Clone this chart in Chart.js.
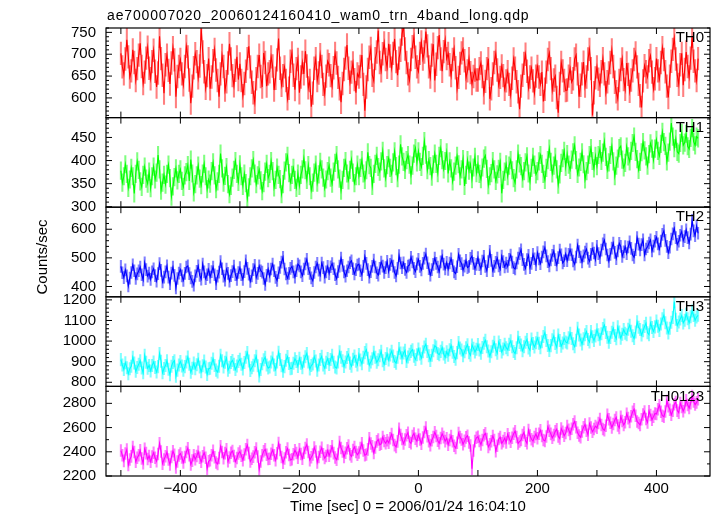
<!DOCTYPE html>
<html><head><meta charset="utf-8">
<script src="https://cdn.jsdelivr.net/npm/chart.js@4.4.1/dist/chart.umd.min.js"></script>
<style>html,body{margin:0;padding:0;background:#fff;}canvas{display:block;}</style>
</head><body>
<canvas id="c" width="717" height="516"></canvas>
<script>
const titleText = 'ae700007020_20060124160410_wam0_trn_4band_long.qdp';
const xTitle = 'Time [sec] 0 = 2006/01/24 16:04:10';
const yTitle = 'Counts/sec';

const times = [
-500,-497.5,-495,-492.5,-490,-487.5,-485,-482.5,-480,-477.5,-475,-472.5,-470,-467.5,-465,-462.5,-460,-457.5,-455,-452.5,
-450,-447.5,-445,-442.5,-440,-437.5,-435,-432.5,-430,-427.5,-425,-422.5,-420,-417.5,-415,-412.5,-410,-407.5,-405,-402.5,
-400,-397.5,-395,-392.5,-390,-387.5,-385,-382.5,-380,-377.5,-375,-372.5,-370,-367.5,-365,-362.5,-360,-357.5,-355,-352.5,
-350,-347.5,-345,-342.5,-340,-337.5,-335,-332.5,-330,-327.5,-325,-322.5,-320,-317.5,-315,-312.5,-310,-307.5,-305,-302.5,
-300,-297.5,-295,-292.5,-290,-287.5,-285,-282.5,-280,-277.5,-275,-272.5,-270,-267.5,-265,-262.5,-260,-257.5,-255,-252.5,
-250,-247.5,-245,-242.5,-240,-237.5,-235,-232.5,-230,-227.5,-225,-222.5,-220,-217.5,-215,-212.5,-210,-207.5,-205,-202.5,
-200,-197.5,-195,-192.5,-190,-187.5,-185,-182.5,-180,-177.5,-175,-172.5,-170,-167.5,-165,-162.5,-160,-157.5,-155,-152.5,
-150,-147.5,-145,-142.5,-140,-137.5,-135,-132.5,-130,-127.5,-125,-122.5,-120,-117.5,-115,-112.5,-110,-107.5,-105,-102.5,
-100,-97.5,-95,-92.5,-90,-87.5,-85,-82.5,-80,-77.5,-75,-72.5,-70,-67.5,-65,-62.5,-60,-57.5,-55,-52.5,
-50,-47.5,-45,-42.5,-40,-37.5,-35,-32.5,-30,-27.5,-25,-22.5,-20,-17.5,-15,-12.5,-10,-7.5,-5,-2.5,
0,2.5,5,7.5,10,12.5,15,17.5,20,22.5,25,27.5,30,32.5,35,37.5,40,42.5,45,47.5,
50,52.5,55,57.5,60,62.5,65,67.5,70,72.5,75,77.5,80,82.5,85,87.5,90,92.5,95,97.5,
100,102.5,105,107.5,110,112.5,115,117.5,120,122.5,125,127.5,130,132.5,135,137.5,140,142.5,145,147.5,
150,152.5,155,157.5,160,162.5,165,167.5,170,172.5,175,177.5,180,182.5,185,187.5,190,192.5,195,197.5,
200,202.5,205,207.5,210,212.5,215,217.5,220,222.5,225,227.5,230,232.5,235,237.5,240,242.5,245,247.5,
250,252.5,255,257.5,260,262.5,265,267.5,270,272.5,275,277.5,280,282.5,285,287.5,290,292.5,295,297.5,
300,302.5,305,307.5,310,312.5,315,317.5,320,322.5,325,327.5,330,332.5,335,337.5,340,342.5,345,347.5,
350,352.5,355,357.5,360,362.5,365,367.5,370,372.5,375,377.5,380,382.5,385,387.5,390,392.5,395,397.5,
400,402.5,405,407.5,410,412.5,415,417.5,420,422.5,425,427.5,430,432.5,435,437.5,440,442.5,445,447.5,
450,452.5,455,457.5,460,462.5,465,467.5,470];

const th0 = [
702,671,655,689,733,694,648,662,710,681,640,667,698,725,672,633,659,691,716,668,
644,683,709,661,625,657,741,690,652,611,676,698,663,632,680,715,687,603,649,672,
688,655,630,672,718,694,641,588,627,669,701,683,646,673,759,705,660,622,651,690,
621,648,685,711,664,640,603,655,697,672,618,637,680,724,689,651,628,663,694,642,
678,640,605,633,661,690,718,671,636,612,590,644,672,698,649,625,703,681,627,655,
660,694,673,618,645,687,736,668,629,651,671,640,598,622,684,703,652,619,667,688,
612,648,681,655,707,673,623,640,580,611,668,690,640,657,699,672,631,609,650,684,
676,651,628,669,702,680,647,621,590,633,665,691,721,668,636,659,680,642,612,655,
648,672,698,631,571,625,665,693,713,652,639,690,705,754,681,662,701,726,688,670,
724,696,668,702,735,683,652,691,709,746,766,712,681,655,640,688,717,740,693,671,
660,702,728,689,705,752,719,671,648,698,723,640,677,715,744,689,661,706,733,690,
702,676,651,688,712,669,621,647,679,703,712,685,646,662,690,658,633,649,664,641,
641,667,680,649,612,638,667,690,598,621,655,681,702,664,629,647,673,651,620,639,
660,631,606,645,689,668,637,614,574,627,652,679,700,661,623,648,668,639,611,650,
672,648,631,659,592,620,659,688,703,667,618,641,650,601,566,633,681,662,640,617,
618,650,667,636,644,689,698,655,603,629,655,682,627,648,689,711,667,560,612,646,
671,643,629,660,690,655,612,637,657,681,710,672,636,614,598,640,665,689,642,620,
680,654,615,641,662,688,703,671,631,605,578,639,674,660,648,685,697,659,621,644,
690,662,643,681,715,688,660,627,601,650,684,711,737,689,652,631,676,702,629,665,
705,672,648,691,741,684,662,640,690];

const th1 = [
378,352,366,392,371,341,359,384,366,329,371,398,380,355,343,369,387,361,350,376,
340,366,387,359,374,412,381,335,352,369,348,371,391,362,322,344,364,383,357,371,
381,356,343,368,375,390,356,402,372,331,349,368,389,361,347,372,393,366,338,359,
350,377,396,368,338,355,371,415,383,352,367,386,349,327,345,363,380,399,371,354,
392,366,345,372,351,318,342,366,383,401,372,349,368,380,357,334,351,376,393,362,
371,399,377,342,358,385,369,360,327,349,378,396,410,373,353,369,384,358,341,372,
345,369,381,405,379,358,390,366,336,352,374,391,352,370,397,381,363,340,359,377,
389,363,350,376,395,412,381,361,335,358,384,399,372,357,380,402,374,351,366,391,
366,384,401,372,358,379,418,390,384,345,371,393,410,386,376,398,421,383,362,390,
405,384,371,396,420,388,362,391,435,409,397,380,401,412,391,368,389,415,427,396,
420,397,386,410,442,413,379,401,388,365,392,415,393,373,410,427,401,381,399,418,
372,398,383,355,376,389,410,392,366,381,403,345,369,401,378,392,360,385,408,373,
392,371,360,385,404,411,382,347,366,373,399,381,356,370,382,397,329,358,376,392,
366,389,401,379,362,352,381,415,394,388,361,377,396,409,372,355,384,408,391,370,
377,398,412,393,371,358,384,401,426,397,372,389,408,381,348,370,395,405,421,386,
414,391,380,402,418,433,401,371,385,397,418,392,359,377,391,412,427,399,383,410,
388,412,425,399,417,441,408,380,396,412,431,398,366,389,404,427,431,402,385,395,
430,409,398,421,438,452,419,403,380,397,418,440,422,409,389,414,437,426,401,426,
445,421,410,436,462,440,432,398,417,441,481,452,427,447,419,415,438,460,433,439,
458,431,425,449,470,441,433,452,448];

const th2 = [
470,448,431,458,437,402,429,449,476,455,428,444,455,468,441,423,483,459,436,447,
425,451,462,438,419,445,480,456,416,433,451,472,433,410,447,468,439,395,428,447,
459,437,421,446,468,472,445,430,418,405,437,453,472,439,426,478,451,427,441,460,
433,452,468,441,410,436,450,487,462,436,422,461,446,419,438,452,471,441,425,449,
466,441,425,452,490,463,443,418,437,459,474,431,446,472,455,450,428,407,439,461,
436,461,478,455,432,421,448,467,485,502,461,444,429,446,463,470,451,433,455,478,
472,451,438,461,479,495,462,446,430,420,449,468,481,457,440,482,466,433,451,470,
445,469,480,462,441,427,452,471,499,474,451,436,455,468,483,490,462,444,459,475,
478,455,441,470,505,481,459,433,452,470,492,468,448,440,463,485,471,449,466,488,
452,477,490,471,449,437,463,508,482,466,483,460,449,471,475,502,486,463,452,479,
495,470,458,481,499,513,483,462,440,459,477,499,481,468,452,486,507,478,461,484,
460,482,497,473,451,445,469,512,490,480,458,471,491,466,470,498,506,481,462,477,
501,476,462,489,505,470,455,487,523,491,455,470,484,499,472,460,506,487,468,482,
470,495,510,485,466,461,482,499,515,528,494,477,463,494,509,466,481,512,497,476,
518,496,480,503,521,536,507,487,472,493,509,524,494,475,501,527,511,482,490,514,
490,512,528,511,489,478,503,545,522,503,486,507,520,531,499,488,512,532,517,494,
540,515,501,527,549,562,531,510,488,512,534,552,519,497,524,551,540,505,521,539,
515,538,556,533,510,502,529,571,548,528,546,563,510,531,539,552,563,524,541,558,
572,549,531,559,582,594,561,540,518,537,566,584,603,571,547,558,579,592,560,574,
598,571,552,583,631,594,578,612,586];

const th3 = [
910,884,862,895,871,841,866,878,922,894,853,872,887,905,869,846,931,897,868,882,
855,881,899,872,850,876,940,902,846,867,881,905,863,837,878,896,905,829,859,884,
901,879,858,876,899,923,887,849,868,893,866,885,912,874,851,880,903,874,838,866,
868,892,913,882,859,850,878,931,904,874,897,918,859,873,896,906,887,862,879,901,
912,887,865,896,922,944,903,857,871,883,905,926,880,831,862,890,909,921,884,869,
874,899,918,884,862,899,946,911,880,853,876,907,925,891,866,868,892,914,901,877,
917,892,871,902,924,940,899,864,881,889,925,903,858,884,911,926,884,869,897,915,
886,911,931,897,874,869,899,948,921,904,877,898,920,935,893,878,912,927,902,884,
935,908,890,921,944,958,917,883,899,914,946,921,897,909,929,951,905,887,915,938,
908,933,951,927,901,893,921,964,942,919,942,955,901,923,936,950,958,927,911,934,
962,937,917,948,971,985,949,929,906,931,953,977,971,940,934,950,968,937,921,948,
931,958,978,946,925,912,944,993,966,957,929,948,968,982,944,931,981,965,947,960,
983,957,941,969,990,1004,972,952,927,948,975,994,958,941,996,979,947,962,985,968,
958,984,1001,972,949,940,968,1019,993,981,953,972,994,1008,967,956,1010,988,971,992,
1014,989,968,997,1022,1041,1003,979,954,978,1006,1025,988,970,1029,1003,975,991,1012,996,
991,1016,1038,1012,987,973,1004,1062,1030,1005,986,1011,1031,1046,1008,995,1047,1021,1003,1025,
1055,1031,1009,1036,1061,1078,1042,1019,994,1017,1043,1062,1027,1011,1069,1044,1014,1033,1056,1038,
1031,1058,1077,1048,1026,1013,1044,1094,1067,1056,1029,1050,1071,1087,1040,1031,1088,1066,1047,1069,
1098,1072,1052,1083,1108,1125,1089,1064,1039,1062,1091,1115,1192,1106,1076,1093,1107,1124,1088,1101,
1132,1108,1089,1118,1146,1124,1101,1117,1125];

const th0123 = [
2410,2372,2325,2385,2418,2290,2336,2362,2440,2398,2318,2351,2371,2412,2345,2305,2425,2389,2340,2366,
2318,2360,2392,2350,2322,2381,2470,2402,2302,2337,2364,2396,2336,2295,2358,2405,2376,2270,2319,2370,
2385,2352,2312,2356,2398,2430,2371,2295,2327,2372,2338,2366,2401,2350,2317,2364,2392,2351,2260,2322,
2330,2371,2408,2355,2312,2300,2349,2445,2398,2347,2389,2420,2321,2352,2392,2406,2366,2320,2349,2385,
2402,2368,2331,2378,2421,2455,2390,2320,2342,2360,2396,2428,2361,2255,2320,2371,2405,2420,2376,2340,
2342,2383,2415,2372,2330,2388,2472,2415,2356,2309,2345,2397,2426,2373,2332,2338,2380,2412,2390,2351,
2420,2381,2343,2392,2431,2460,2398,2331,2355,2378,2436,2402,2312,2356,2401,2433,2380,2348,2365,2410,
2368,2405,2445,2389,2352,2335,2381,2480,2432,2402,2357,2392,2430,2451,2380,2362,2415,2440,2398,2376,
2395,2431,2470,2410,2372,2378,2420,2512,2468,2445,2390,2435,2486,2502,2458,2466,2521,2489,2471,2496,
2475,2512,2546,2498,2455,2440,2486,2590,2538,2505,2468,2502,2537,2558,2482,2470,2530,2551,2508,2489,
2540,2501,2466,2518,2563,2600,2529,2487,2455,2496,2523,2561,2530,2492,2470,2514,2548,2521,2488,2512,
2458,2497,2530,2487,2450,2431,2475,2556,2521,2502,2463,2490,2519,2533,2476,2452,2260,2410,2488,2515,
2525,2489,2460,2498,2536,2552,2505,2440,2462,2487,2531,2498,2405,2450,2506,2521,2470,2488,2512,2476,
2545,2511,2482,2516,2549,2570,2523,2468,2485,2497,2538,2560,2491,2470,2580,2534,2503,2489,2522,2547,
2512,2549,2578,2531,2498,2490,2527,2606,2574,2548,2515,2538,2569,2587,2527,2510,2592,2566,2533,2555,
2612,2581,2548,2591,2627,2650,2602,2557,2535,2520,2568,2603,2625,2574,2541,2633,2600,2566,2589,2612,
2598,2637,2671,2622,2588,2577,2615,2705,2668,2640,2601,2630,2662,2684,2618,2597,2690,2655,2622,2644,
2715,2678,2646,2693,2731,2752,2697,2651,2637,2622,2668,2708,2733,2670,2642,2735,2704,2664,2689,2716,
2712,2751,2785,2731,2698,2690,2733,2820,2776,2748,2705,2739,2792,2811,2740,2722,2803,2770,2735,2768,
2825,2787,2762,2801,2860,2815,2790,2808,2835];

// half-length of the light error bars in each panel
const errBars = [26, 19, 21, 30, 49];

const panelNames = ['TH0','TH1','TH2','TH3','TH0123'];
const panelColors = ['#ff0000','#00ff00','#0000ff','#00ffff','#ff00ff'];
const errColors = ['rgba(255,0,0,0.5)','rgba(0,255,0,0.5)','rgba(0,0,255,0.5)','rgba(0,255,255,0.5)','rgba(255,0,255,0.5)'];
const yMin = [555, 299, 364, 780, 2200];
const yMax = [760, 493, 677, 1215, 2940];
const yTicks = [[600,650,700,750],[300,350,400,450],[400,500,600],[800,900,1000,1100,1200],[2200,2400,2600,2800]];
const yMinorStep = [10, 10, 20, 20, 100];
const xLabelTicks = [-400,-200,0,200,400];
const xTickMarks = [-500,-400,-300,-200,-100,0,100,200,300,400];
const xMin = -525, xMax = 490;

const series = [th0, th1, th2, th3, th0123];

const FONT = '"Liberation Sans", Arial, Helvetica, sans-serif';
Chart.defaults.font.family = FONT;
Chart.defaults.font.size = 15;
Chart.defaults.color = '#000';

const fmtX = v => v < 0 ? '\u2212' + Math.abs(v) : String(v);

const datasets = [];
series.forEach((vals, i) => {
  datasets.push({
    type: 'line',
    data: vals.map((v, j) => ({x: times[j], y: v})),
    yAxisID: 'y' + i, xAxisID: 'x', borderColor: panelColors[i], borderWidth: 1.1,
    pointRadius: 0, tension: 0, order: 0, parsing: false
  });
  datasets.push({
    type: 'bar',
    data: vals.map((v, j) => ({x: times[j], y: [v - errBars[i], v + errBars[i]]})),
    yAxisID: 'y' + i, xAxisID: 'x', backgroundColor: errColors[i], borderWidth: 0,
    barThickness: 1.4, grouped: false, order: 1
  });
});

const scales = {
  x: {
    type: 'linear', min: xMin, max: xMax, position: 'bottom', offset: false,
    grid: {display: false, drawTicks: false, offset: false}, border: {display: false},
    afterBuildTicks: s => { s.ticks = xLabelTicks.map(v => ({value: v})); },
    ticks: {padding: 4, color: '#000', font: {size: 15}, maxRotation: 0, autoSkip: false, callback: v => fmtX(v)},
    title: {display: true, text: xTitle, color: '#000', font: {size: 15}, padding: {top: 0, bottom: 0}},
    afterFit: s => { s.height = 40; }
  }
};
for (let i = 0; i < 5; i++) {
  scales['y' + i] = {
    type: 'linear', position: 'left', stack: 'panels', stackWeight: 1, weight: 5 - i,
    min: yMin[i], max: yMax[i], beginAtZero: false,
    grid: {display: false, drawTicks: false}, border: {display: false},
    afterBuildTicks: s => { s.ticks = yTicks[i].map(v => ({value: v})); },
    ticks: {padding: 10, color: '#000', font: {size: 15}, autoSkip: false, callback: v => String(v)},
    title: {display: false},
    afterFit: s => { s.width = 106; }
  };
}

const framePlugin = {
  id: 'frames',
  afterDraw(chart) {
    const {ctx, chartArea} = chart;
    const xs = chart.scales.x;
    const L = chartArea.left, R = chartArea.right;
    ctx.save();
    ctx.strokeStyle = '#000';
    const seg = (x1, y1, x2, y2) => { ctx.beginPath(); ctx.moveTo(x1, y1); ctx.lineTo(x2, y2); ctx.stroke(); };
    for (let i = 0; i < 5; i++) {
      const ys = chart.scales['y' + i];
      const T = ys.top, B = ys.bottom;
      ctx.lineWidth = 1.2;
      ctx.strokeRect(L, T, R - L, B - T);
      ctx.lineWidth = 1;
      xTickMarks.forEach(v => {
        const px = xs.getPixelForValue(v);
        seg(px, T, px, T + 6);
        seg(px, B, px, B - 6);
      });
      for (let v = Math.ceil(yMin[i] / yMinorStep[i]) * yMinorStep[i]; v <= yMax[i]; v += yMinorStep[i]) {
        const py = ys.getPixelForValue(v);
        const len = yTicks[i].includes(v) ? 6 : 3;
        seg(L, py, L + len, py);
        seg(R, py, R - len, py);
      }
      ctx.fillStyle = '#000';
      ctx.font = '15px ' + FONT;
      ctx.textAlign = 'right';
      ctx.textBaseline = 'middle';
      ctx.fillText(panelNames[i], R - 6, T + 10);
    }
    // plot title
    ctx.fillStyle = '#000';
    ctx.font = '14px ' + FONT;
    ctx.textAlign = 'left';
    ctx.textBaseline = 'alphabetic';
    ctx.letterSpacing = '0.85px';
    ctx.fillText(titleText, 107, 20);
    ctx.letterSpacing = '0px';
    // y-axis title
    ctx.font = '15px ' + FONT;
    ctx.translate(43, 257);
    ctx.rotate(-Math.PI / 2);
    ctx.textAlign = 'center';
    ctx.textBaseline = 'middle';
    ctx.fillText(yTitle, 0, 0);
    ctx.restore();
  }
};

new Chart(document.getElementById('c'), {
  type: 'line',
  data: {datasets},
  options: {
    responsive: false, animation: false, devicePixelRatio: 1,
    layout: {padding: {left: 0, right: 7, top: 28, bottom: 0}},
    plugins: {legend: {display: false}, tooltip: {enabled: false}, title: {display: false}},
    scales
  },
  plugins: [framePlugin]
});
</script>
</body></html>
